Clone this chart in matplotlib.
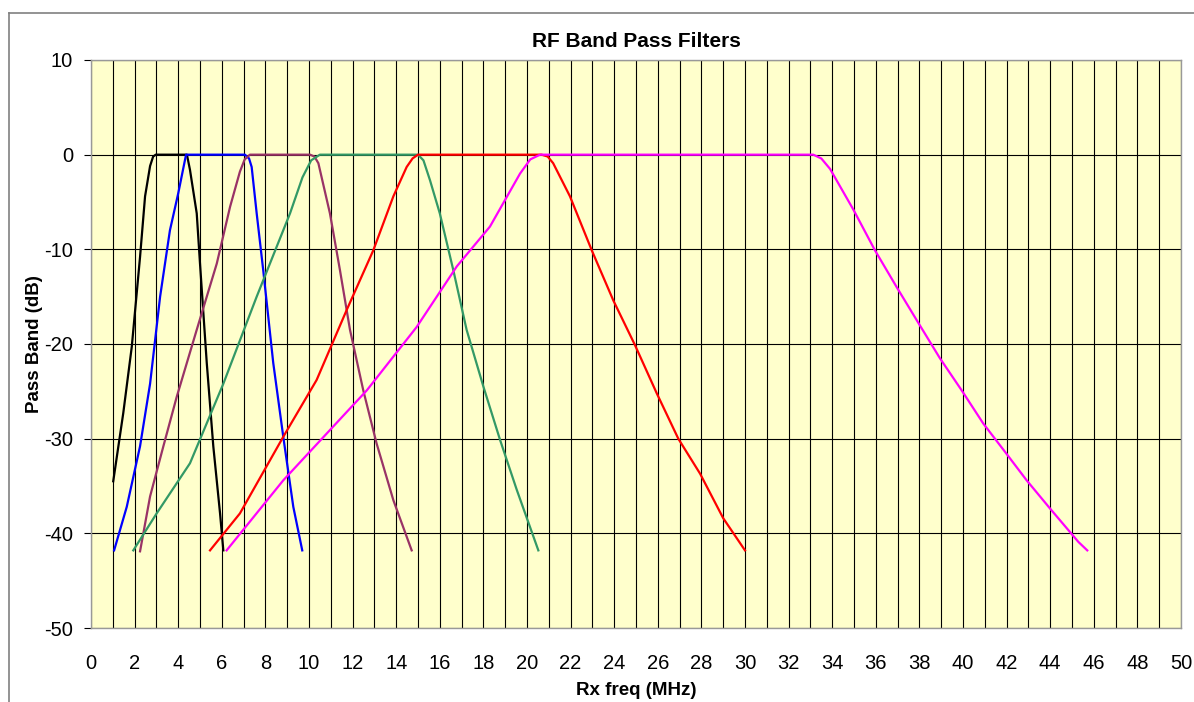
import matplotlib
matplotlib.use('Agg')
import matplotlib.pyplot as plt
from matplotlib.lines import Line2D

plt.rcParams['font.family'] = ['Liberation Sans', 'DejaVu Sans']
plt.rcParams['axes.unicode_minus'] = False

# filter responses (MHz, dB)
f1_x = [1.02, 1.48, 1.87, 2.25, 2.48, 2.71, 2.85, 2.97, 4.4, 4.54, 4.85, 5.0, 5.31, 5.61, 5.92, 6.07]
f1_y = [-34.5, -27.3, -20.3, -10.8, -4.4, -1.2, -0.2, 0, 0, -1.6, -6.2, -11.5, -22.0, -30.8, -37.9, -41.8]

f2_x = [1.06, 1.64, 2.25, 2.71, 3.17, 3.62, 4.0, 4.36, 7.06, 7.25, 7.37, 7.6, 7.9, 8.36, 8.82, 9.28, 9.69]
f2_y = [-41.8, -37.2, -30.8, -24.2, -15.0, -8.0, -4.1, 0, 0, -0.4, -1.3, -6.2, -12.2, -22.0, -29.8, -37.2, -41.8]

f3_x = [2.25, 2.71, 3.32, 3.93, 4.85, 5.77, 6.38, 6.83, 7.05, 7.29, 10.05, 10.25, 10.43, 10.96, 11.42, 11.88, 12.49, 13.1, 13.87, 14.71]
f3_y = [-41.9, -36.1, -30.8, -25.6, -18.5, -11.5, -5.5, -1.8, -0.5, 0, 0, -0.2, -0.9, -6.2, -12.2, -18.5, -24.9, -30.5, -36.5, -41.8]

f4_x = [1.94, 3.01, 4.54, 6.07, 7.6, 9.13, 9.7, 10.1, 10.5, 15.0, 15.25, 15.55, 16.0, 16.62, 17.23, 18.0, 18.76, 19.53, 20.52]
f4_y = [-41.8, -37.9, -32.6, -24.2, -15.0, -6.2, -2.4, -0.6, 0, 0, -0.6, -2.7, -6.2, -12.2, -18.5, -24.5, -30.1, -35.4, -41.8]

f5_x = [5.46, 6.83, 8.82, 10.35, 11.73, 12.95, 13.87, 14.48, 14.75, 15.0, 20.67, 20.95, 21.2, 21.97, 22.97, 23.96, 24.95, 25.95, 26.94, 27.94, 29.0, 30.0]
f5_y = [-41.8, -37.9, -29.8, -23.8, -16.4, -10.1, -4.4, -1.3, -0.4, 0, 0, -0.2, -0.9, -4.4, -10.1, -15.4, -20.1, -25.2, -30.0, -33.7, -38.4, -41.8]

f6_x = [6.22, 8.82, 12.65, 14.94, 16.78, 18.3, 19.68, 20.15, 20.6, 33.13, 33.5, 33.9, 34.97, 35.96, 36.96, 37.96, 38.94, 39.94, 40.93, 41.93, 42.92, 44.0, 45.29, 45.7]
f6_y = [-41.8, -34.4, -24.9, -18.2, -11.8, -7.6, -2.0, -0.5, 0, 0, -0.4, -1.5, -5.8, -10.1, -14.0, -17.8, -21.5, -24.9, -28.4, -31.4, -34.4, -37.4, -40.9, -41.8]

series = [(f1_x, f1_y, 'black'), (f2_x, f2_y, '#0000FF'), (f3_x, f3_y, '#993366'),
          (f4_x, f4_y, '#339966'), (f5_x, f5_y, '#FF0000'), (f6_x, f6_y, '#FF00FF')]

W, H = 1194, 702
fig = plt.figure(figsize=(W / 100, H / 100), dpi=100)
ax = fig.add_axes([91 / W, 1 - 628 / H, 1090 / W, 568 / H])
ax.set_facecolor('#FFFFCC')

for x, y, c in series:
    ax.plot(x, y, color=c, lw=1.6, zorder=3, solid_joinstyle='round')

ax.set_xlim(0, 50)
ax.set_ylim(-50, 10)
ax.set_xticks(range(0, 51, 2))
ax.set_xticks(range(0, 51, 1), minor=True)
ax.set_yticks(range(-50, 11, 10))
ax.grid(True, which='both', axis='x', color='black', lw=0.8)
ax.grid(True, which='major', axis='y', color='black', lw=0.8)
ax.tick_params(axis='x', which='both', length=0, pad=19, labelsize=14.5)
ax.tick_params(axis='y', length=5, width=0.8, pad=8, labelsize=14.5)
for s in ax.spines.values():
    s.set_color('#999999')
    s.set_linewidth(1.0)

ax.set_title('RF Band Pass Filters', fontsize=15, fontweight='bold', pad=9)
ax.set_xlabel('Rx freq (MHz)', fontsize=13.5, fontweight='bold', labelpad=6)
ax.set_ylabel('Pass Band (dB)', fontsize=13.5, fontweight='bold', labelpad=1)

# chart area border (left and top visible)
fig.add_artist(Line2D([9 / W, 9 / W], [0, 1 - 13 / H], color='#808080', lw=1.2))
fig.add_artist(Line2D([9 / W, 1], [1 - 13 / H, 1 - 13 / H], color='#808080', lw=1.2))

fig.savefig('out.png', dpi=100)
